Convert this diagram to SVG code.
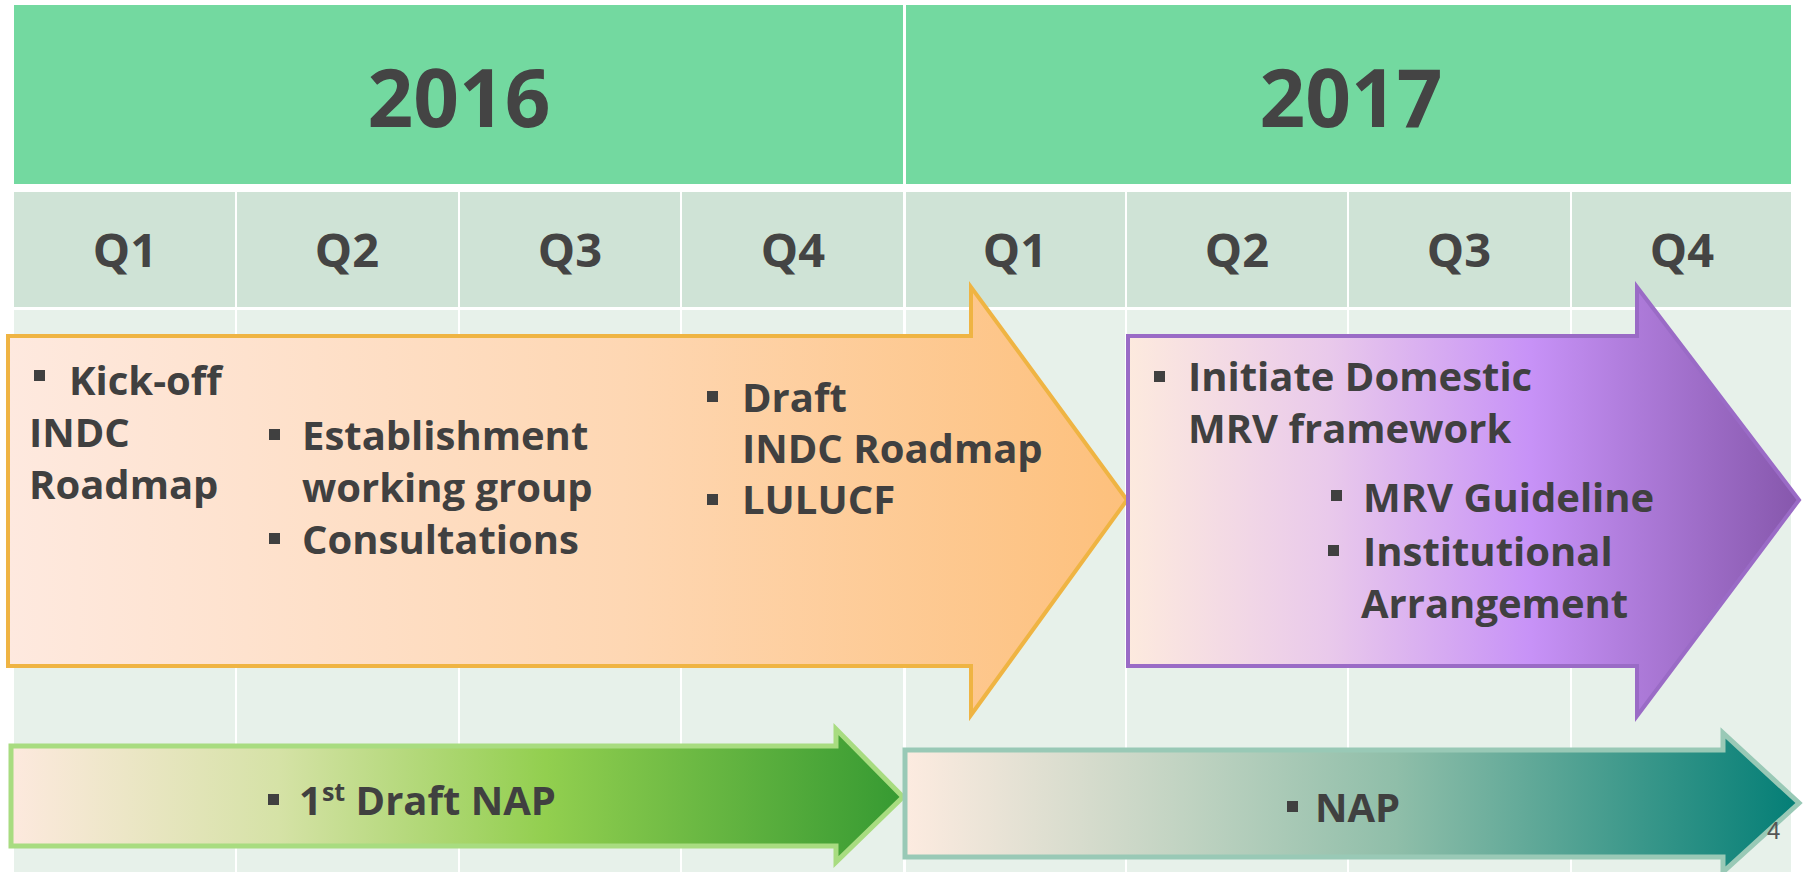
<svg xmlns="http://www.w3.org/2000/svg" width="1804" height="872" viewBox="0 0 1804 872">
<style>
.year{fill:#73d9a0}
.qtr{fill:#cfe3d6}
.body{fill:#e7f1ea}
.yt{font-family:"Open Sans","Liberation Sans",sans-serif;font-weight:700;font-size:80px;fill:#444444;text-anchor:middle}
.qt{font-family:"Open Sans","Liberation Sans",sans-serif;font-weight:700;font-size:47px;fill:#444444;text-anchor:middle}
.t{font-family:"Open Sans","Liberation Sans",sans-serif;font-weight:700;font-size:40px;fill:#404040}
.b{fill:#404040}
.pg{font-family:"Liberation Sans Narrow","Liberation Sans",sans-serif;font-size:24px;fill:#555555}
</style>
<defs>
<linearGradient id="gO" x1="0" y1="0" x2="1" y2="0">
<stop offset="0" stop-color="#fee9df"/>
<stop offset="0.55" stop-color="#fed7b3"/>
<stop offset="1" stop-color="#fdc07c"/>
</linearGradient>
<linearGradient id="gP" x1="0" y1="0" x2="1" y2="0">
<stop offset="0" stop-color="#fdeade"/>
<stop offset="0.3" stop-color="#e9c9eb"/>
<stop offset="0.6" stop-color="#c792f7"/>
<stop offset="1" stop-color="#8657ac"/>
</linearGradient>
<linearGradient id="gG" x1="0" y1="0" x2="1" y2="0">
<stop offset="0" stop-color="#fde9de"/>
<stop offset="0.3" stop-color="#d5e2a6"/>
<stop offset="0.6" stop-color="#92cf4f"/>
<stop offset="1" stop-color="#369a32"/>
</linearGradient>
<linearGradient id="gT" x1="0" y1="0" x2="1" y2="0">
<stop offset="0" stop-color="#fdebe0"/>
<stop offset="0.3" stop-color="#c3d4c3"/>
<stop offset="0.55" stop-color="#8fbea9"/>
<stop offset="1" stop-color="#037e76"/>
</linearGradient>
</defs>
<rect x="0" y="0" width="1804" height="872" fill="#ffffff"/>
<g id="grid">
<rect class="year" x="14" y="5" width="889" height="179"/>
<rect class="year" x="906" y="5" width="885" height="179"/>
<rect class="qtr" x="14" y="192" width="221" height="115"/>
<rect class="qtr" x="237" y="192" width="221" height="115"/>
<rect class="qtr" x="460" y="192" width="220" height="115"/>
<rect class="qtr" x="682" y="192" width="221" height="115"/>
<rect class="qtr" x="906" y="192" width="219" height="115"/>
<rect class="qtr" x="1127" y="192" width="220" height="115"/>
<rect class="qtr" x="1349" y="192" width="221" height="115"/>
<rect class="qtr" x="1572" y="192" width="219" height="115"/>
<rect class="body" x="14" y="310" width="221" height="562"/>
<rect class="body" x="237" y="310" width="221" height="562"/>
<rect class="body" x="460" y="310" width="220" height="562"/>
<rect class="body" x="682" y="310" width="221" height="562"/>
<rect class="body" x="906" y="310" width="219" height="562"/>
<rect class="body" x="1127" y="310" width="220" height="562"/>
<rect class="body" x="1349" y="310" width="221" height="562"/>
<rect class="body" x="1572" y="310" width="219" height="562"/>
<text class="yt" x="459" y="127">2016</text>
<text class="yt" x="1351" y="127">2017</text>
<text class="qt" x="125" y="267">Q1</text>
<text class="qt" x="347" y="267">Q2</text>
<text class="qt" x="570" y="267">Q3</text>
<text class="qt" x="793" y="267">Q4</text>
<text class="qt" x="1015" y="267">Q1</text>
<text class="qt" x="1237" y="267">Q2</text>
<text class="qt" x="1459" y="267">Q3</text>
<text class="qt" x="1682" y="267">Q4</text>
</g>
<g id="connectors"></g>
<g id="indc-arrow">
<polygon points="8,336 971,336 971,287 1127,500 971,715 971,666 8,666" fill="url(#gO)" stroke="#efb443" stroke-width="4" stroke-linejoin="miter"/>
<rect class="b" x="34" y="370" width="11" height="11"/>
<text class="t" x="69" y="395">Kick-off</text>
<text class="t" x="29" y="447">INDC</text>
<text class="t" x="29" y="499">Roadmap</text>
<rect class="b" x="269" y="429" width="11" height="11"/>
<text class="t" x="302" y="450">Establishment</text>
<text class="t" x="302" y="502">working group</text>
<rect class="b" x="269" y="533" width="11" height="11"/>
<text class="t" x="302" y="554">Consultations</text>
<rect class="b" x="707" y="391" width="11" height="11"/>
<text class="t" x="742" y="412">Draft</text>
<text class="t" x="742" y="463">INDC Roadmap</text>
<rect class="b" x="707" y="494" width="11" height="11"/>
<text class="t" x="742" y="514">LULUCF</text>
</g>
<g id="mrv-arrow">
<polygon points="1128,336 1637,336 1637,287 1799,500 1637,716 1637,666 1128,666" fill="url(#gP)" stroke="#9a6bc6" stroke-width="4" stroke-linejoin="miter"/>
<rect class="b" x="1154" y="371" width="11" height="11"/>
<text class="t" x="1188" y="391">Initiate Domestic</text>
<text class="t" x="1188" y="443">MRV framework</text>
<rect class="b" x="1331" y="490" width="11" height="11"/>
<text class="t" x="1363" y="512">MRV Guideline</text>
<rect class="b" x="1328" y="545" width="11" height="11"/>
<text class="t" x="1363" y="566">Institutional</text>
<text class="t" x="1361" y="618">Arrangement</text>
</g>
<g id="nap-draft-arrow">
<polygon points="11,746 836,746 836,729 903,797 836,862 836,846 11,846" fill="url(#gG)" stroke="#a8dc80" stroke-width="5" stroke-linejoin="miter"/>
<rect class="b" x="268" y="794" width="11" height="11"/>
<text class="t" x="299" y="815">1<tspan font-size="25" dy="-14">st</tspan><tspan dy="14"> Draft NAP</tspan></text>
</g>
<g id="nap-arrow">
<polygon points="905,750 1723,750 1723,733 1799,803 1723,872 1723,857 905,857" fill="url(#gT)" stroke="#99c9b6" stroke-width="5" stroke-linejoin="miter"/>
<rect class="b" x="1287" y="801" width="11" height="11"/>
<text class="t" x="1315" y="822">NAP</text>
</g>
<text class="pg" x="1767" y="839">4</text>
</svg>
